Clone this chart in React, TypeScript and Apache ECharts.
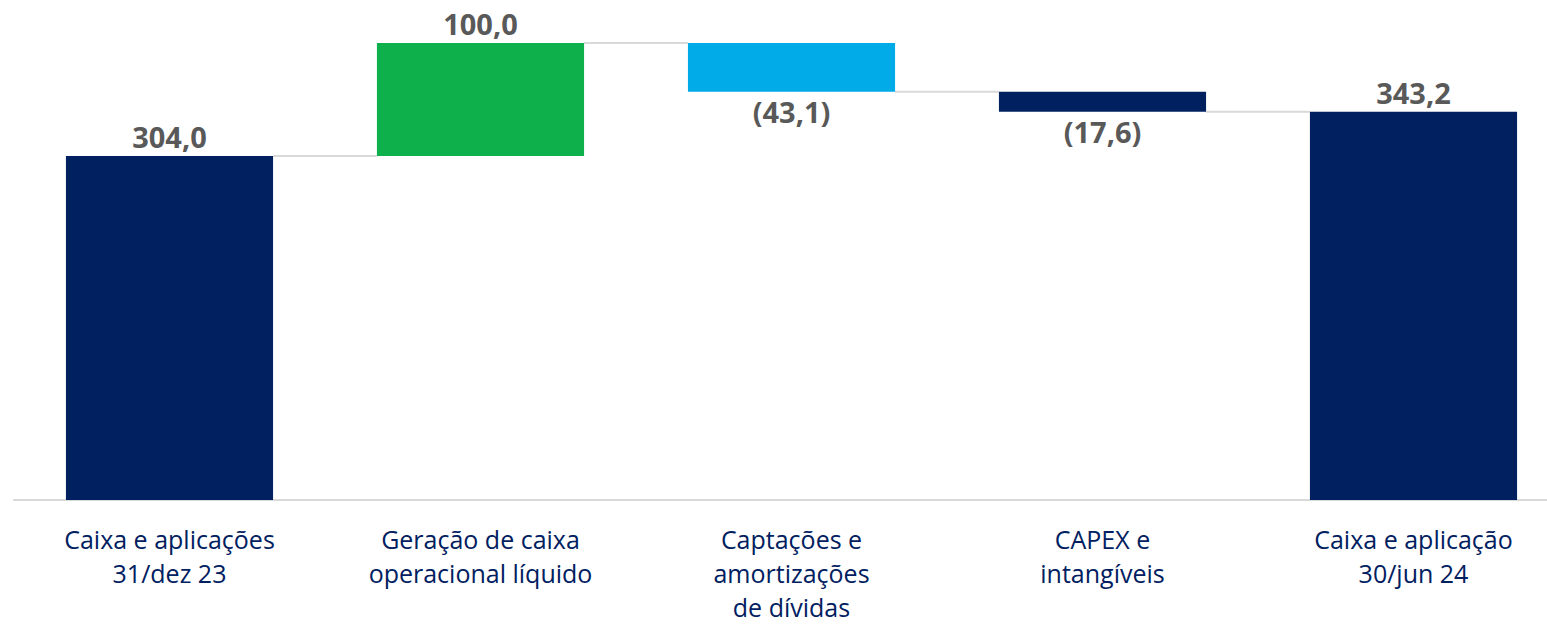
import React, { useEffect, useRef } from "react";
import * as echarts from "echarts";

const categories = [
  "Caixa e aplicações\n31/dez 23",
  "Geração de caixa\noperacional líquido",
  "Captações e\namortizações\nde dívidas",
  "CAPEX e\nintangíveis",
  "Caixa e aplicação\n30/jun 24",
];
const changes = [304.0, 100.0, -43.1, -17.6, 343.2];
const isTotal = [true, false, false, false, true];
const valueLabels = ["304,0", "100,0", "(43,1)", "(17,6)", "343,2"];
const colors = ["#002060", "#0DB04B", "#00ABE7", "#002060", "#002060"];

export default function App() {
  const ref = useRef<HTMLDivElement>(null);
  useEffect(() => {
    if (!ref.current) return;
    const chart = echarts.init(ref.current, undefined, { renderer: "svg" });

    const base: number[] = [];
    const size: number[] = [];
    const tops: number[] = [];
    let running = 0;
    changes.forEach((c, i) => {
      if (isTotal[i]) {
        base.push(0);
        size.push(c);
        running = c;
      } else if (c >= 0) {
        base.push(running);
        size.push(c);
        running += c;
      } else {
        running += c;
        base.push(running);
        size.push(-c);
      }
      tops.push(isTotal[i] ? c : running);
    });
    const connectors: number[][] = [];
    for (let i = 0; i < changes.length - 1; i++) {
      connectors.push([i, tops[i]]);
    }
    const barFrac = 0.666;

    chart.setOption({
      animation: false,
      grid: { left: 14, right: 0, top: 43, bottom: 121, containLabel: false },
      xAxis: {
        type: "category",
        data: categories,
        axisTick: { show: false },
        axisLine: { lineStyle: { color: "#D9D9D9", width: 2 } },
        axisLabel: {
          color: "#002060",
          fontFamily: "Open Sans",
          fontSize: 25,
          lineHeight: 34,
          margin: 22,
          interval: 0,
        },
      },
      yAxis: { type: "value", min: 0, max: 404, show: false, splitLine: { show: false } },
      series: [
        {
          type: "custom",
          z: 1,
          data: connectors,
          renderItem: (params: any, api: any) => {
            const i = api.value(0);
            const v = api.value(1);
            const p = api.coord([i, v]);
            const band = api.size([1, 0])[0];
            const half = (band * barFrac) / 2;
            return {
              type: "line",
              shape: { x1: p[0] + half, y1: p[1], x2: p[0] + band - half, y2: p[1] },
              style: { stroke: "#D9D9D9", lineWidth: 2 },
            };
          },
        },
        {
          type: "bar",
          stack: "wf",
          barWidth: "66.6%",
          itemStyle: { color: "transparent" },
          data: base,
          silent: true,
          z: 2,
        },
        {
          type: "bar",
          stack: "wf",
          barWidth: "66.6%",
          z: 2,
          data: size.map((s, i) => ({
            value: s,
            itemStyle: { color: colors[i] },
            label: {
              show: true,
              position: changes[i] < 0 ? "bottom" : "top",
              distance: 5,
              formatter: valueLabels[i],
              color: "#595959",
              fontWeight: "bold",
              fontFamily: "Open Sans",
              fontSize: 29,
            },
          })),
        },
      ],
    });
    return () => chart.dispose();
  }, []);
  return (
    <div
      style={{
        position: "absolute",
        left: 0,
        top: 0,
        width: 1547,
        height: 624,
        overflow: "hidden",
        background: "#fff",
      }}
    >
      <div ref={ref} style={{ width: 1569, height: 624 }} />
    </div>
  );
}
